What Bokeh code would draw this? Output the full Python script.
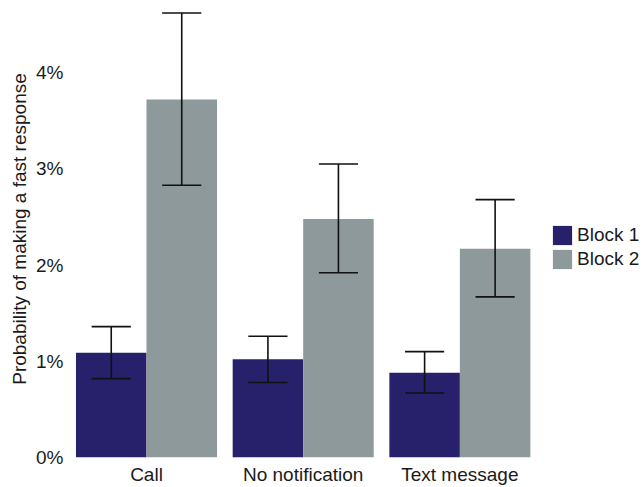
from bokeh.plotting import figure
from bokeh.models import FixedTicker, Range1d, Legend, LegendItem
from bokeh.embed import file_html
from bokeh.resources import INLINE

categories = ["Call", "No notification", "Text message"]
block1 = [1.09, 1.02, 0.88]
block1_lo = [0.82, 0.78, 0.67]
block1_hi = [1.36, 1.26, 1.10]
block2 = [3.72, 2.48, 2.17]
block2_lo = [2.83, 1.92, 1.67]
block2_hi = [4.62, 3.05, 2.68]
series_names = ["Block 1", "Block 2"]
y_ticks = [0, 1, 2, 3, 4]
y_tick_labels = ["0%", "1%", "2%", "3%", "4%"]

NAVY = "#27206a"
GREY = "#8e999c"
FONT = "Liberation Sans"
TXT = "#1a1a1a"

pos = [i + 1 for i in range(len(categories))]
bar_w = 0.45
x1 = [p_ - bar_w / 2 for p_ in pos]
x2 = [p_ + bar_w / 2 for p_ in pos]

p = figure(width=643, height=487, output_backend="svg", toolbar_location=None,
           x_range=Range1d(0.515, 4.172), y_range=Range1d(0, 4.75),
           min_border_left=70, min_border_right=0, min_border_top=0, min_border_bottom=20)
p.outline_line_color = None
p.background_fill_color = "white"
p.border_fill_color = "white"
p.xgrid.visible = False
p.ygrid.visible = False

r1 = p.vbar(x=x1, top=block1, width=bar_w, fill_color=NAVY, line_color=None)
r2 = p.vbar(x=x2, top=block2, width=bar_w, fill_color=GREY, line_color=None)

hw = 0.125
for xs, lo, hi in ((x1, block1_lo, block1_hi), (x2, block2_lo, block2_hi)):
    p.segment(x0=xs, y0=lo, x1=xs, y1=hi, line_color="#111111", line_width=1.6)
    p.segment(x0=[x - hw for x in xs], y0=lo, x1=[x + hw for x in xs], y1=lo,
              line_color="#111111", line_width=1.6)
    p.segment(x0=[x - hw for x in xs], y0=hi, x1=[x + hw for x in xs], y1=hi,
              line_color="#111111", line_width=1.6)

p.xaxis.ticker = FixedTicker(ticks=pos)
p.xaxis.major_label_overrides = {pp: c for pp, c in zip(pos, categories)}
p.yaxis.ticker = FixedTicker(ticks=y_ticks)
p.yaxis.major_label_overrides = {t: l for t, l in zip(y_ticks, y_tick_labels)}
p.yaxis.axis_label = "Probability of making a fast response"

for ax in (p.xaxis[0], p.yaxis[0]):
    ax.axis_line_color = None
    ax.major_tick_line_color = None
    ax.minor_tick_line_color = None
    ax.major_tick_out = 0
    ax.major_tick_in = 0
    ax.minor_tick_out = 0
    ax.major_label_text_font = FONT
    ax.major_label_text_font_size = "19px"
    ax.major_label_text_color = TXT
p.xaxis.major_label_standoff = 6
p.yaxis.major_label_standoff = 7
p.yaxis.axis_label_text_font = FONT
p.yaxis.axis_label_text_font_size = "19px"
p.yaxis.axis_label_text_font_style = "normal"
p.yaxis.axis_label_text_color = TXT
p.yaxis.axis_label_standoff = 3

legend = Legend(items=[LegendItem(label=series_names[0], renderers=[r1]),
                       LegendItem(label=series_names[1], renderers=[r2])],
                location=(480, 186), orientation="vertical",
                glyph_width=24, glyph_height=24, label_height=24, spacing=0,
                padding=0, margin=0, label_standoff=3,
                border_line_color=None, background_fill_alpha=0,
                label_text_font=FONT, label_text_font_size="19px",
                label_text_color=TXT)
p.add_layout(legend)

open("out.html", "w").write(file_html(p, INLINE))
